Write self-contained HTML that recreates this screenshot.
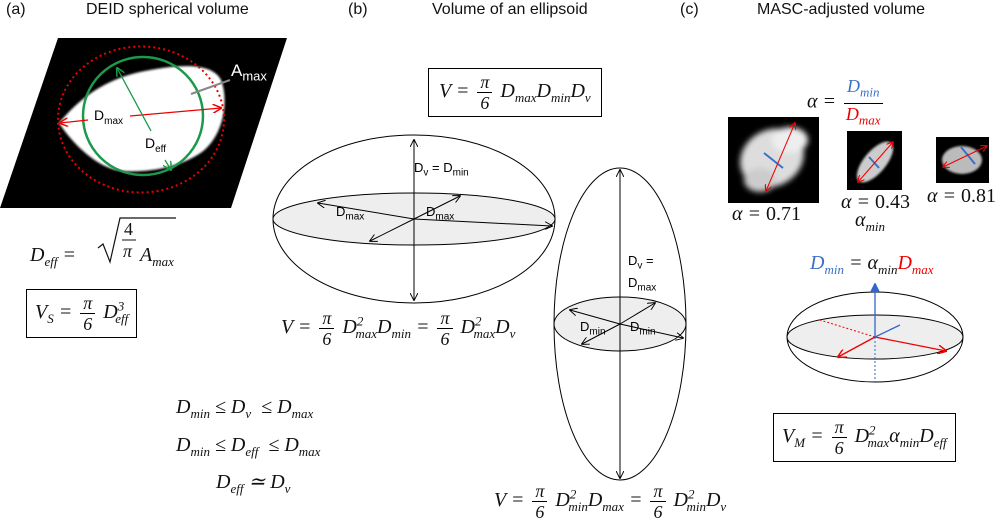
<!DOCTYPE html>
<html><head><meta charset="utf-8"><style>
body{margin:0;width:998px;height:523px;background:#fff;position:relative;overflow:hidden;font-family:"Liberation Sans",sans-serif}
.t{position:absolute;white-space:nowrap}
.h{font-size:16px;color:#111}
.m{font-family:"Liberation Serif",serif;font-style:italic;font-size:20px;color:#111}
.m .u{font-style:normal}
.box{border:1px solid #000;padding:3px 8px}
.fr{display:inline-block;vertical-align:middle;text-align:center;font-size:18px;line-height:20px;margin:0 3px}
.fr span{display:block}
.fr .n{border-bottom:1px solid #000;padding:0 3px}
sub,sup{font-size:13px}
.l{font-size:14px}
.l sub{font-size:10px}
</style></head><body>
<svg width="998" height="523" style="position:absolute;left:0;top:0">
<defs>
<marker id="ar" viewBox="0 0 10 10" refX="9" refY="5" markerWidth="7" markerHeight="7" orient="auto-start-reverse"><path d="M0,0L10,5L0,10" fill="none" stroke="#e00" stroke-width="1.6"/></marker>
<marker id="ag" viewBox="0 0 10 10" refX="9" refY="5" markerWidth="7" markerHeight="7" orient="auto-start-reverse"><path d="M0,0L10,5L0,10" fill="none" stroke="#1a9a4a" stroke-width="1.6"/></marker>
<marker id="ak" viewBox="0 0 10 10" refX="9" refY="5" markerWidth="8" markerHeight="8" orient="auto-start-reverse"><path d="M0,0L10,5L0,10" fill="none" stroke="#000" stroke-width="1.2"/></marker>
<marker id="ab" viewBox="0 0 10 10" refX="9" refY="5" markerWidth="7" markerHeight="7" orient="auto-start-reverse"><path d="M0,0L10,5L0,10" fill="#3366cc" stroke="#3366cc"/></marker>
<filter id="bl"><feGaussianBlur stdDeviation="3"/></filter>
<filter id="bl1"><feGaussianBlur stdDeviation="1"/></filter>
</defs>
<polygon points="58,38 287,38 231,208 0,208" fill="#000"/>
<path d="M59,123 C72,108 95,82 140,72 C178,64 212,62 221,80 C229,100 224,135 202,152 C182,166 152,173 122,171 C95,168 70,140 59,123Z" fill="#fff" filter="url(#bl1)"/>
<ellipse cx="141" cy="119.5" rx="83" ry="73" fill="none" stroke="#e00" stroke-width="2" stroke-dasharray="2,3"/>
<ellipse cx="143" cy="116" rx="60" ry="59" fill="none" stroke="#1a9a4a" stroke-width="2.5"/>
<line x1="191" y1="94" x2="230" y2="80" stroke="#888" stroke-width="2"/>
<line x1="88" y1="120" x2="60" y2="123" stroke="#e00" stroke-width="1.3" marker-end="url(#ar)"/>
<line x1="130" y1="116" x2="221" y2="108" stroke="#e00" stroke-width="1.3" marker-end="url(#ar)"/>
<line x1="151" y1="131" x2="117" y2="68" stroke="#1a9a4a" stroke-width="1.3" marker-end="url(#ag)"/>
<line x1="165" y1="160" x2="171" y2="170" stroke="#1a9a4a" stroke-width="1.3" marker-end="url(#ag)"/>
<ellipse cx="414" cy="219" rx="141" ry="84" fill="none" stroke="#000"/>
<ellipse cx="414" cy="219" rx="141" ry="26" fill="#eee" stroke="#000"/>
<line x1="414" y1="219" x2="414" y2="140" stroke="#000" marker-end="url(#ak)"/>
<line x1="414" y1="219" x2="414" y2="300" stroke="#000" marker-end="url(#ak)"/>
<line x1="414" y1="219" x2="318" y2="203" stroke="#000" marker-end="url(#ak)"/>
<line x1="414" y1="219" x2="370" y2="241" stroke="#000" marker-end="url(#ak)"/>
<line x1="414" y1="219" x2="460" y2="196" stroke="#000" marker-end="url(#ak)"/>
<line x1="414" y1="219" x2="552" y2="226" stroke="#000" marker-end="url(#ak)"/>
<ellipse cx="620" cy="324" rx="66" ry="156" fill="none" stroke="#000"/>
<ellipse cx="620" cy="324" rx="66" ry="27" fill="#eee" stroke="#000"/>
<line x1="620" y1="324" x2="620" y2="170" stroke="#000" marker-end="url(#ak)"/>
<line x1="620" y1="324" x2="620" y2="478" stroke="#000" marker-end="url(#ak)"/>
<line x1="620" y1="324" x2="582" y2="344" stroke="#000" marker-end="url(#ak)"/>
<line x1="620" y1="324" x2="655" y2="303" stroke="#000" marker-end="url(#ak)"/>
<line x1="620" y1="324" x2="570" y2="310" stroke="#000" marker-end="url(#ak)"/>
<line x1="620" y1="324" x2="683" y2="338" stroke="#000" marker-end="url(#ak)"/>
<rect x="728" y="117" width="91" height="86" fill="#000"/>
<g filter="url(#bl)"><ellipse cx="772" cy="158" rx="33" ry="28" fill="#ddd" transform="rotate(-30 772 158)"/><ellipse cx="790" cy="140" rx="18" ry="13" fill="#eee"/><ellipse cx="760" cy="180" rx="16" ry="12" fill="#ccc"/></g>
<line x1="764" y1="153" x2="783" y2="168" stroke="#3b6fc8" stroke-width="2"/>
<line x1="766" y1="191" x2="795" y2="123" stroke="#e00" stroke-width="1" marker-start="url(#ar)" marker-end="url(#ar)"/>
<rect x="847" y="131" width="55" height="59" fill="#000"/>
<g filter="url(#bl1)"><ellipse cx="875" cy="162" rx="11" ry="25" fill="#ccc" transform="rotate(40 875 162)"/></g>
<line x1="869" y1="157" x2="879" y2="168" stroke="#3b6fc8" stroke-width="2"/>
<line x1="858" y1="182" x2="893" y2="142" stroke="#e00" stroke-width="1" marker-start="url(#ar)" marker-end="url(#ar)"/>
<rect x="936" y="137" width="53" height="46" fill="#000"/>
<g filter="url(#bl1)"><ellipse cx="962" cy="160" rx="20" ry="14" fill="#bbb"/></g>
<line x1="961" y1="147" x2="975" y2="164" stroke="#3b6fc8" stroke-width="2"/>
<line x1="943" y1="167" x2="987" y2="146" stroke="#e00" stroke-width="1" marker-start="url(#ar)" marker-end="url(#ar)"/>
<ellipse cx="875" cy="337" rx="88" ry="45" fill="none" stroke="#000"/>
<ellipse cx="875" cy="337" rx="88" ry="22" fill="#eee" stroke="#000"/>
<line x1="875" y1="337" x2="820" y2="320" stroke="#e00" stroke-dasharray="2,2"/>
<line x1="875" y1="337" x2="875" y2="382" stroke="#3366cc" stroke-dasharray="2,2"/>
<line x1="875" y1="337" x2="875" y2="284" stroke="#3366cc" stroke-width="1.3" marker-end="url(#ab)"/>
<line x1="875" y1="337" x2="838" y2="357" stroke="#e00" stroke-width="1.3" marker-end="url(#ar)"/>
<line x1="875" y1="337" x2="946" y2="351" stroke="#e00" stroke-width="1.3" marker-end="url(#ar)"/>
<line x1="875" y1="337" x2="900" y2="325" stroke="#3366cc" stroke-width="1.3"/>
<!-- sqrt sign for Deff -->
<path d="M98,248 L103,244 L110,262 L120,218 L176,218" fill="none" stroke="#111" stroke-width="1.2"/>
<line x1="122" y1="240" x2="136" y2="240" stroke="#111" stroke-width="1"/>
</svg>
<div class="t h" style="left:6px;top:1px">(a)</div>
<div class="t h" style="left:86px;top:1px">DEID spherical volume</div>
<div class="t h" style="left:348px;top:1px">(b)</div>
<div class="t h" style="left:432px;top:1px">Volume of an ellipsoid</div>
<div class="t h" style="left:680px;top:1px">(c)</div>
<div class="t h" style="left:757px;top:1px">MASC-adjusted volume</div>
<div class="t" style="left:231px;top:61px;color:#fff;font-size:17px">A<sub>max</sub></div>
<div class="t l" style="left:94px;top:107px">D<sub>max</sub></div>
<div class="t l" style="left:145px;top:135px">D<sub>eff</sub></div>
<div class="t l" style="left:414px;top:160px;font-size:13px">D<sub>v</sub> = D<sub>min</sub></div>
<div class="t l" style="left:336px;top:204px;font-size:13px">D<sub>max</sub></div>
<div class="t l" style="left:426px;top:204px;font-size:13px">D<sub>max</sub></div>
<div class="t l" style="left:628px;top:253px;font-size:13px;line-height:16px">D<sub>v</sub> =<br>D<sub>max</sub></div>
<div class="t l" style="left:580px;top:319px;font-size:13px">D<sub>min</sub></div>
<div class="t l" style="left:630px;top:319px;font-size:13px">D<sub>min</sub></div>
<div class="t m" style="left:30px;top:244px">D<sub>eff</sub> =</div>
<div class="t m" style="left:124px;top:219px;font-size:18px;font-style:normal">4</div>
<div class="t m" style="left:123px;top:241px;font-size:18px">π</div>
<div class="t m" style="left:140px;top:244px">A<sub>max</sub></div>
<div class="t m box" style="left:26px;top:289px">V<sub>S</sub> = <span class="fr"><span class="n">π</span><span>6</span></span> D<sup>3</sup><sub style="margin-left:-9px">eff</sub></div>
<div class="t m box" style="left:428px;top:68px;padding:3px 10px">V = <span class="fr"><span class="n">π</span><span>6</span></span> D<sub>max</sub>D<sub>min</sub>D<sub>v</sub></div>
<div class="t m" style="left:281px;top:308px">V = <span class="fr"><span class="n">π</span><span>6</span></span> D<sup>2</sup><sub style="margin-left:-8px">max</sub>D<sub>min</sub> = <span class="fr"><span class="n">π</span><span>6</span></span> D<sup>2</sup><sub style="margin-left:-8px">max</sub>D<sub>v</sub></div>
<div class="t m" style="left:494px;top:481px">V = <span class="fr"><span class="n">π</span><span>6</span></span> D<sup>2</sup><sub style="margin-left:-8px">min</sub>D<sub>max</sub> = <span class="fr"><span class="n">π</span><span>6</span></span> D<sup>2</sup><sub style="margin-left:-8px">min</sub>D<sub>v</sub></div>
<div class="t m" style="left:176px;top:396px">D<sub>min</sub> ≤ D<sub>v</sub> &nbsp;≤ D<sub>max</sub></div>
<div class="t m" style="left:176px;top:434px">D<sub>min</sub> ≤ D<sub>eff</sub> &nbsp;≤ D<sub>max</sub></div>
<div class="t m" style="left:216px;top:469px">D<sub>eff</sub> ≃ D<sub>v</sub></div>
<div class="t m" style="left:807px;top:76px">α = <span class="fr"><span class="n" style="color:#3b6fc8">D<sub>min</sub></span><span style="color:#e00">D<sub>max</sub></span></span></div>
<div class="t m" style="left:732px;top:203px">α = <span class="u">0.71</span></div>
<div class="t m" style="left:841px;top:191px">α = <span class="u">0.43</span></div>
<div class="t m" style="left:855px;top:209px">α<sub>min</sub></div>
<div class="t m" style="left:927px;top:185px">α = <span class="u">0.81</span></div>
<div class="t m" style="left:810px;top:252px"><span style="color:#3b6fc8">D<sub>min</sub></span> = α<sub>min</sub><span style="color:#e00">D<sub>max</sub></span></div>
<div class="t m box" style="left:773px;top:413px;padding:3px 8px">V<sub>M</sub> = <span class="fr"><span class="n">π</span><span>6</span></span> D<sup>2</sup><sub style="margin-left:-8px">max</sub>α<sub>min</sub>D<sub>eff</sub></div>
</body></html>
